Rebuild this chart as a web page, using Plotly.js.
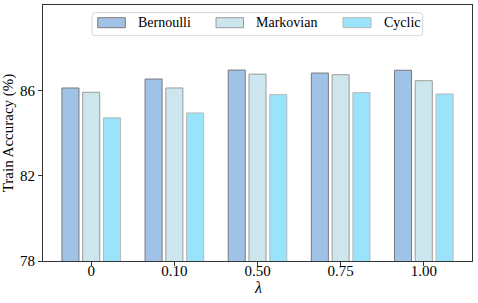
<!DOCTYPE html>
<html>
<head>
<meta charset="utf-8">
<script src="https://cdn.plot.ly/plotly-3.0.1.min.js"></script>
<style>html,body{margin:0;padding:0;background:#fff;}#chart{width:478px;height:303px;}</style>
</head>
<body>
<div id="chart"></div>
<script>
const categories = ["0", "0.10", "0.50", "0.75", "1.00"];
const seriesNames = ["Bernoulli", "Markovian", "Cyclic"];
const bernoulli = [86.11, 86.53, 86.95, 86.81, 86.94];
const markovian = [85.91, 86.11, 86.76, 86.73, 86.45];
const cyclic = [84.71, 84.94, 85.80, 85.89, 85.83];
const yTicks = [78, 82, 86];
const xTitle = "λ";
const yTitle = "Train Accuracy (%)";

const fills = ["#9fc2e6", "#cde6ee", "#99e4fb"];
const edges = ["#7a7a7a", "#9a9a9a", "#b8b8b8"];
const values = [bernoulli, markovian, cyclic];

const traces = seriesNames.map((n, i) => ({
  type: "bar",
  name: n,
  x: categories,
  y: values[i],
  marker: {color: fills[i], line: {color: edges[i], width: 1}},
  showlegend: false,
  hoverinfo: "skip"
}));

const W = 429, H = 256;
function px(x) { return x / W; }
function py(y) { return 1 - y / H; }

function rrect(x0, y0, x1, y1, r) {
  const X = v => px(v), Y = v => py(v);
  return `M ${X(x0 + r)} ${Y(y0)} L ${X(x1 - r)} ${Y(y0)} Q ${X(x1)} ${Y(y0)} ${X(x1)} ${Y(y0 + r)} ` +
    `L ${X(x1)} ${Y(y1 - r)} Q ${X(x1)} ${Y(y1)} ${X(x1 - r)} ${Y(y1)} L ${X(x0 + r)} ${Y(y1)} ` +
    `Q ${X(x0)} ${Y(y1)} ${X(x0)} ${Y(y1 - r)} L ${X(x0)} ${Y(y0 + r)} Q ${X(x0)} ${Y(y0)} ${X(x0 + r)} ${Y(y0)} Z`;
}

const legendSw = [[54.7, 82.3], [173, 200.5], [300, 328]];
const shapes = [{
  type: "path", xref: "paper", yref: "paper",
  path: rrect(49, 7.7, 379.7, 30.7, 3),
  line: {color: "#d6d6d6", width: 1}, fillcolor: "rgba(255,255,255,0.8)"
}];
const annotations = [];
seriesNames.forEach((n, i) => {
  shapes.push({
    type: "rect", xref: "paper", yref: "paper",
    x0: px(legendSw[i][0]), x1: px(legendSw[i][1]), y0: py(12.7), y1: py(22.7),
    line: {color: edges[i], width: 1}, fillcolor: fills[i]
  });
  annotations.push({
    xref: "paper", yref: "paper", x: px(legendSw[i][1] + 10.5), y: py(17.7),
    xanchor: "left", yanchor: "middle", text: n, showarrow: false,
    font: {family: "Liberation Serif", size: 14, color: "#000"}
  });
});
annotations.push({
  xref: "paper", yref: "paper", x: 0.5, y: py(282.5),
  xanchor: "center", yanchor: "middle", text: "<i>" + xTitle + "</i>", showarrow: false,
  font: {family: "Liberation Serif", size: 16, color: "#000"}
});

const layout = {
  width: 478, height: 303,
  margin: {l: 43, r: 6, t: 5, b: 42},
  paper_bgcolor: "#fff", plot_bgcolor: "#fff",
  font: {family: "Liberation Serif", size: 15, color: "#000"},
  barmode: "group", bargap: 0.25, bargroupgap: 0.18,
  xaxis: {
    type: "category", range: [-0.58, 4.58],
    showline: true, mirror: true, linecolor: "#333", linewidth: 1,
    ticks: "outside", ticklen: 4, tickcolor: "#333", showgrid: false,
    ticklabelstandoff: -8,
    tickfont: {family: "Liberation Serif", size: 15, color: "#000"}
  },
  yaxis: {
    range: [78, 90], tickvals: yTicks, ticktext: yTicks.map(String),
    showline: true, mirror: true, linecolor: "#333", linewidth: 1,
    ticks: "outside", ticklen: 4, tickcolor: "#333", showgrid: false, zeroline: false,
    tickfont: {family: "Liberation Serif", size: 15, color: "#000"},
    title: {text: yTitle, font: {family: "Liberation Serif", size: 15, color: "#000"}, standoff: 4}
  },
  shapes: shapes,
  annotations: annotations,
  showlegend: false
};

Plotly.newPlot("chart", traces, layout, {displayModeBar: false, staticPlot: true});
</script>
</body>
</html>
